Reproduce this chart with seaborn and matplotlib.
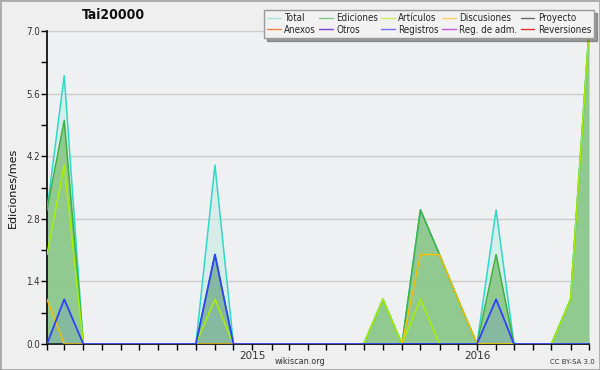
import numpy as np
import pandas as pd
import matplotlib
matplotlib.use("Agg")
import matplotlib.pyplot as plt
import matplotlib.dates as mdates
from matplotlib.lines import Line2D
from matplotlib.font_manager import FontProperties, fontManager
import seaborn as sns

# ---- data (monthly, Feb 2014 .. Jul 2016) ----
months = pd.date_range("2014-02-01", "2016-07-01", freq="MS")
total       = [3, 6, 0, 0, 0, 0, 0, 0, 0, 4, 0, 0, 0, 0, 0, 0, 0, 0, 1, 0, 3, 2, 1, 0, 3, 0, 0, 0, 1, 7]
ediciones   = [3, 5, 0, 0, 0, 0, 0, 0, 0, 2, 0, 0, 0, 0, 0, 0, 0, 0, 1, 0, 3, 2, 1, 0, 2, 0, 0, 0, 1, 7]
articulos   = [2, 4, 0, 0, 0, 0, 0, 0, 0, 1, 0, 0, 0, 0, 0, 0, 0, 0, 1, 0, 1, 0, 0, 0, 0, 0, 0, 0, 1, 7]
discusiones = [1, 0, 0, 0, 0, 0, 0, 0, 0, 0, 0, 0, 0, 0, 0, 0, 0, 0, 0, 0, 2, 2, 1, 0, 0, 0, 0, 0, 0, 0]
registros   = [0, 1, 0, 0, 0, 0, 0, 0, 0, 2, 0, 0, 0, 0, 0, 0, 0, 0, 0, 0, 0, 0, 0, 0, 1, 0, 0, 0, 0, 0]

legend_labels = ["Total", "Ediciones", "Artículos", "Discusiones", "Proyecto",
                 "Anexos", "Otros", "Registros", "Reg. de adm.", "Reversiones"]
legend_colors = ["#a8e4e0", "#80c880", "#c8f060", "#f8d060", "#666666",
                 "#f08040", "#8040e0", "#7070f0", "#d050e0", "#e03030"]

title = "Tai20000"
ylabel = "Ediciones/mes"
yticks = [0.0, 1.4, 2.8, 4.2, 5.6, 7.0]

df = pd.DataFrame({"mes": months, "Total": total, "Ediciones": ediciones,
                   "Artículos": articulos, "Discusiones": discusiones,
                   "Registros": registros})

sns.set_style("white")
plt.rcParams["font.family"] = ["DejaVu Sans"]

has_cond = any(f.name == "DejaVu Sans" and f.stretch in ("condensed", 87.5, "semi-condensed")
               for f in fontManager.ttflist)
stretch = "condensed" if has_cond else "normal"

fig = plt.figure(figsize=(6.0, 3.7), dpi=100, facecolor="#efefef")
ax = fig.add_axes([47/600, 1 - 344/370, (589 - 47)/600, (344 - 31)/370])
ax.set_facecolor("#eff0f1")

# fills
ax.fill_between(df["mes"], df["Total"], color="#c8ece4", alpha=0.6, lw=0, zorder=1)
ax.fill_between(df["mes"], df["Ediciones"], color="#8cc88c", alpha=0.95, lw=0, zorder=2)
ax.fill_between(df["mes"], df["Registros"], color="#6a8ed0", alpha=0.25, lw=0, zorder=3)

line_specs = [("Total", "#30d8c8", 1.1), ("Ediciones", "#40b040", 1.1),
              ("Artículos", "#a8f000", 1.1), ("Discusiones", "#f0c000", 1.1),
              ("Registros", "#3040ff", 1.3)]
for col, c, w in line_specs:
    sns.lineplot(data=df, x="mes", y=col, color=c, lw=w, ax=ax, zorder=5)

ax.set_xlim(pd.Timestamp("2014-02-01"), pd.Timestamp("2016-07-01"))
ax.set_ylim(0, 7.0)
ax.set_yticks(yticks)
ax.set_yticklabels([f"{v:.1f}" for v in yticks], fontsize=7, color="#333333",
                   fontstretch=stretch)
ax.set_yticks([0.7, 2.1, 3.5, 4.9, 6.3], minor=True)
ax.yaxis.grid(True, color="#cccccc", lw=1)
ax.set_axisbelow(True)

ax.xaxis.set_major_locator(mdates.YearLocator())
ax.xaxis.set_major_formatter(mdates.DateFormatter("%Y"))
ax.xaxis.set_minor_locator(mdates.MonthLocator())
for lab in ax.get_xticklabels():
    lab.set_fontsize(7.5)
    lab.set_color("#333333")
ax.tick_params(axis="both", which="both", direction="out", length=4, width=1,
               color="black", bottom=True, left=True, pad=1)

for s in ["top", "right"]:
    ax.spines[s].set_visible(False)
for s in ["left", "bottom"]:
    ax.spines[s].set_color("black")
    ax.spines[s].set_linewidth(1.2)

ax.set_xlabel("")
ax.set_ylabel(ylabel, fontsize=8, color="#111111", labelpad=6)

fig.text(113/600, 1 - 15/370, title, fontsize=10, fontweight="bold",
         fontstretch=stretch, ha="center", va="center", color="#111111")
fig.text(300/600, 1 - 361/370, "wikiscan.org", fontsize=6.5, fontstretch=stretch,
         ha="center", va="center", color="#333333")
fig.text(572/600, 1 - 362/370, "CC BY-SA 3.0", fontsize=5,
         ha="center", va="center", color="#333333")

legprop = FontProperties(family="DejaVu Sans", stretch=stretch,
                         size=7.0 if has_cond else 6.5)

handles = [Line2D([0], [0], color=c, lw=1) for c in legend_colors]
# column-major ordering for a 5-column, 2-row legend
order = [0, 5, 1, 6, 2, 7, 3, 8, 4, 9]
leg = fig.legend([handles[i] for i in order], [legend_labels[i] for i in order],
                 ncol=5, loc="upper right", bbox_to_anchor=(594/600, 1 - 10/370),
                 prop=legprop, frameon=True, fancybox=False, shadow=True,
                 handlelength=1.4, handletextpad=0.35, columnspacing=0.35,
                 labelspacing=0.2, borderpad=0.3, borderaxespad=0)
leg.get_frame().set_facecolor("#f2f2f2")
leg.get_frame().set_edgecolor("#999999")
leg.get_frame().set_alpha(1)

# figure border
fig.patches.append(plt.Rectangle((0, 0), 1, 1, transform=fig.transFigure,
                                 fill=False, edgecolor="#aaaaaa", lw=2))

fig.savefig("out.png", dpi=100, facecolor=fig.get_facecolor())
